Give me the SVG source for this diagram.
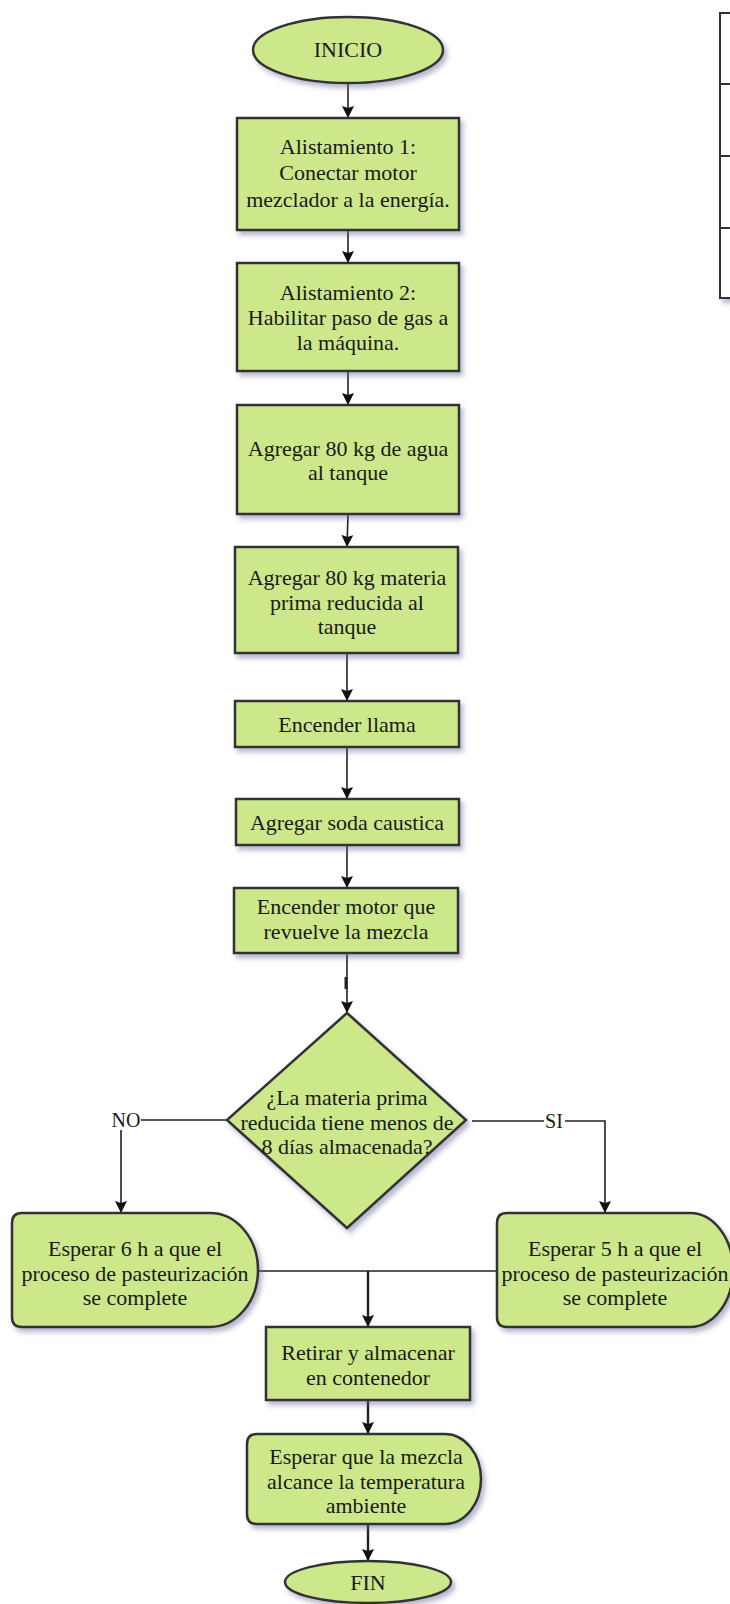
<svg xmlns="http://www.w3.org/2000/svg" width="730" height="1604" viewBox="0 0 730 1604">
  <defs>
    <filter id="shadow" x="-10%" y="-10%" width="130%" height="140%">
      <feDropShadow dx="3" dy="4" stdDeviation="2.5" flood-color="#5d5d8f" flood-opacity="0.45"/>
    </filter>
    <marker id="arrow" viewBox="0 0 12 12" refX="12" refY="6" markerWidth="12" markerHeight="12" markerUnits="userSpaceOnUse" orient="auto">
      <path d="M0,0 L12,6 L0,12 L2,6 Z" fill="#111"/>
    </marker>
  </defs>
  <style>
    .shape { fill: #cde88b; stroke: #333; stroke-width: 2.5; filter: url(#shadow); }
    .label { font-family: "Liberation Serif", "Times New Roman", serif; font-size: 22px; fill: #1a1a1a; text-anchor: middle; }
    .tag { font-family: "Liberation Serif", "Times New Roman", serif; font-size: 20px; fill: #1a1a1a; text-anchor: middle; }
    .link { fill: none; stroke: #222; stroke-width: 1.6; }
    .link-bold { fill: none; stroke: #222; stroke-width: 2.4; }
  </style>
  <rect width="730" height="1604" fill="#fff"/>

  <!-- side table (partially off the page) -->
  <g id="side-table">
    <rect x="720" y="13" width="30" height="285" fill="#fff" stroke="#333" stroke-width="2" filter="url(#shadow)"/>
    <line x1="720" y1="84" x2="730" y2="84" stroke="#333" stroke-width="2"/>
    <line x1="720" y1="156" x2="730" y2="156" stroke="#333" stroke-width="2"/>
    <line x1="720" y1="228" x2="730" y2="228" stroke="#333" stroke-width="2"/>
  </g>

  <!-- connectors -->
  <g id="connectors">
    <line class="link" x1="348" y1="83" x2="348" y2="118" marker-end="url(#arrow)"/>
    <line class="link" x1="348" y1="230" x2="348" y2="263" marker-end="url(#arrow)"/>
    <line class="link" x1="348" y1="371" x2="348" y2="405" marker-end="url(#arrow)"/>
    <line class="link" x1="348" y1="514" x2="347" y2="547" marker-end="url(#arrow)"/>
    <line class="link" x1="347" y1="653" x2="347" y2="701" marker-end="url(#arrow)"/>
    <line class="link" x1="347" y1="747" x2="347" y2="799" marker-end="url(#arrow)"/>
    <line class="link" x1="347" y1="845" x2="347" y2="888" marker-end="url(#arrow)"/>
    <line class="link" x1="347" y1="953" x2="347" y2="1013" marker-end="url(#arrow)"/>
    <line x1="346" y1="977" x2="346" y2="989" stroke="#222" stroke-width="3"/>
    <!-- NO branch -->
    <polyline class="link" points="227,1120 121,1120 121,1213" marker-end="url(#arrow)"/>
    <!-- SI branch -->
    <polyline class="link" points="472,1121 605,1121 605,1213" marker-end="url(#arrow)"/>
    <!-- merge -->
    <line class="link" x1="258" y1="1271" x2="497" y2="1271"/>
    <line class="link-bold" x1="368" y1="1271" x2="368" y2="1327" marker-end="url(#arrow)"/>
    <line class="link-bold" x1="368" y1="1400" x2="368" y2="1434" marker-end="url(#arrow)"/>
    <line class="link-bold" x1="368" y1="1524" x2="368" y2="1561" marker-end="url(#arrow)"/>
    <!-- branch tags -->
    <rect x="111" y="1110" width="30" height="20" fill="#fff"/>
    <text class="tag" x="126" y="1127">NO</text>
    <rect x="544" y="1111" width="21" height="20" fill="#fff"/>
    <text class="tag" x="554" y="1128">SI</text>
  </g>

  <g id="inicio">
    <ellipse class="shape" cx="348" cy="50" rx="95" ry="33"/>
    <text class="label" x="348" y="57">INICIO</text>
  </g>

  <g id="alistamiento-1">
    <rect class="shape" x="237" y="118" width="222" height="112"/>
    <text class="label" x="348" y="154">Alistamiento 1:</text>
    <text class="label" x="348" y="180">Conectar motor</text>
    <text class="label" x="348" y="207">mezclador a la energía.</text>
  </g>

  <g id="alistamiento-2">
    <rect class="shape" x="237" y="263" width="222" height="108"/>
    <text class="label" x="348" y="300">Alistamiento 2:</text>
    <text class="label" x="348" y="325">Habilitar paso de gas a</text>
    <text class="label" x="348" y="350">la máquina.</text>
  </g>

  <g id="agregar-agua">
    <rect class="shape" x="237" y="405" width="222" height="109"/>
    <text class="label" x="348" y="456">Agregar 80 kg de agua</text>
    <text class="label" x="348" y="480">al tanque</text>
  </g>

  <g id="agregar-materia">
    <rect class="shape" x="235" y="547" width="223" height="106"/>
    <text class="label" x="347" y="585">Agregar 80 kg materia</text>
    <text class="label" x="347" y="610">prima reducida al</text>
    <text class="label" x="347" y="634">tanque</text>
  </g>

  <g id="encender-llama">
    <rect class="shape" x="235" y="701" width="224" height="46"/>
    <text class="label" x="347" y="732">Encender llama</text>
  </g>

  <g id="agregar-soda">
    <rect class="shape" x="236" y="799" width="223" height="46"/>
    <text class="label" x="347" y="830">Agregar soda caustica</text>
  </g>

  <g id="encender-motor">
    <rect class="shape" x="234" y="888" width="224" height="65"/>
    <text class="label" x="346" y="914">Encender motor que</text>
    <text class="label" x="346" y="939">revuelve la mezcla</text>
  </g>

  <g id="decision">
    <polygon class="shape" points="347,1013 466,1120 347,1228 227,1120"/>
    <text class="label" x="347" y="1105">¿La materia prima</text>
    <text class="label" x="347" y="1130">reducida tiene menos de</text>
    <text class="label" x="347" y="1154">8 días almacenada?</text>
  </g>

  <g id="esperar-6h">
    <path class="shape" d="M22,1213 H210 A48,57 0 0 1 210,1327 H22 Q12,1327 12,1317 V1223 Q12,1213 22,1213 Z"/>
    <text class="label" x="135" y="1256">Esperar 6 h a que el</text>
    <text class="label" x="135" y="1281">proceso de pasteurización</text>
    <text class="label" x="135" y="1305">se complete</text>
  </g>

  <g id="esperar-5h">
    <path class="shape" d="M507,1213 H690 A43,57 0 0 1 690,1327 H507 Q497,1327 497,1317 V1223 Q497,1213 507,1213 Z"/>
    <text class="label" x="615" y="1256">Esperar 5 h a que el</text>
    <text class="label" x="615" y="1281">proceso de pasteurización</text>
    <text class="label" x="615" y="1305">se complete</text>
  </g>

  <g id="retirar">
    <rect class="shape" x="266" y="1327" width="204" height="73"/>
    <text class="label" x="368" y="1360">Retirar y almacenar</text>
    <text class="label" x="368" y="1385">en contenedor</text>
  </g>

  <g id="esperar-temperatura">
    <path class="shape" d="M257,1434 H445 A36,45 0 0 1 445,1524 H257 Q247,1524 247,1514 V1444 Q247,1434 257,1434 Z"/>
    <text class="label" x="366" y="1464">Esperar que la mezcla</text>
    <text class="label" x="366" y="1489">alcance la temperatura</text>
    <text class="label" x="366" y="1513">ambiente</text>
  </g>

  <g id="fin">
    <ellipse class="shape" cx="368" cy="1582" rx="83" ry="21"/>
    <text class="label" x="368" y="1590">FIN</text>
  </g>
</svg>
